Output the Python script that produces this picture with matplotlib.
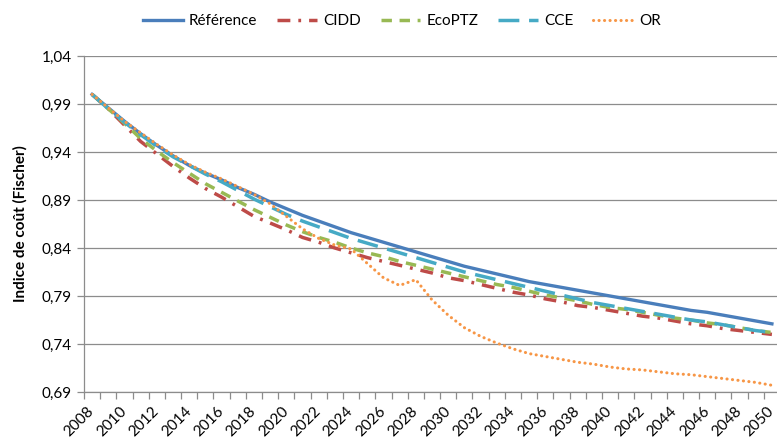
import numpy as np
import matplotlib
matplotlib.use("Agg")
import matplotlib.pyplot as plt
from matplotlib.ticker import FuncFormatter
from matplotlib.transforms import ScaledTranslation

plt.rcParams['font.family'] = ['Lato', 'DejaVu Sans']

years = list(range(2008, 2051))

reference = [1.000, 0.986, 0.972, 0.959, 0.947, 0.936, 0.926, 0.918, 0.911, 0.903,
             0.896, 0.888, 0.881, 0.874, 0.868, 0.862, 0.856, 0.851, 0.846, 0.841,
             0.836, 0.831, 0.826, 0.821, 0.817, 0.813, 0.809, 0.805, 0.802, 0.799,
             0.796, 0.793, 0.790, 0.787, 0.784, 0.781, 0.778, 0.775, 0.773, 0.770,
             0.767, 0.764, 0.761]

cidd = [1.000, 0.985, 0.968, 0.951, 0.938, 0.925, 0.913, 0.902, 0.893, 0.883,
        0.873, 0.866, 0.859, 0.851, 0.846, 0.840, 0.835, 0.830, 0.826, 0.822,
        0.818, 0.814, 0.809, 0.806, 0.802, 0.798, 0.794, 0.791, 0.787, 0.784,
        0.780, 0.778, 0.775, 0.772, 0.769, 0.767, 0.764, 0.761, 0.759, 0.756,
        0.754, 0.752, 0.750]

ecoptz = [1.000, 0.985, 0.970, 0.954, 0.941, 0.929, 0.918, 0.907, 0.898, 0.889,
          0.880, 0.872, 0.864, 0.857, 0.851, 0.846, 0.840, 0.835, 0.831, 0.826,
          0.822, 0.818, 0.814, 0.810, 0.806, 0.802, 0.799, 0.795, 0.791, 0.788,
          0.785, 0.781, 0.778, 0.776, 0.773, 0.770, 0.767, 0.765, 0.762, 0.760,
          0.757, 0.754, 0.752]

cce = [1.000, 0.985, 0.971, 0.958, 0.946, 0.935, 0.926, 0.917, 0.909, 0.900,
       0.891, 0.883, 0.875, 0.868, 0.862, 0.856, 0.850, 0.845, 0.840, 0.835,
       0.830, 0.825, 0.820, 0.815, 0.811, 0.807, 0.803, 0.799, 0.795, 0.791,
       0.787, 0.783, 0.780, 0.777, 0.774, 0.771, 0.768, 0.765, 0.763, 0.760,
       0.757, 0.754, 0.752]

orr = [1.000, 0.986, 0.972, 0.960, 0.948, 0.937, 0.927, 0.919, 0.912, 0.904,
       0.896, 0.886, 0.873, 0.860, 0.850, 0.843, 0.839, 0.824, 0.809, 0.801,
       0.807, 0.786, 0.770, 0.757, 0.748, 0.741, 0.735, 0.730, 0.727, 0.724,
       0.721, 0.719, 0.716, 0.714, 0.713, 0.711, 0.709, 0.708, 0.706, 0.704,
       0.702, 0.700, 0.697]

fig = plt.figure(figsize=(7.77, 4.45), dpi=100)
ax = fig.add_axes([84 / 777, 1 - 392 / 445, (780 - 84) / 777, (392 - 56) / 445])

grey = '#8c8c8c'

ax.plot(years, reference, color='#4A7EBB', lw=2.4, label='Référence')
ax.plot(years, cidd, color='#BE4B48', lw=2.5, dashes=(3.7, 2.3, 0.8, 2.3), label='CIDD')
ax.plot(years, ecoptz, color='#98B954', lw=2.5, dashes=(3.0, 2.2), label='EcoPTZ')
ax.plot(years, cce, color='#46AAC5', lw=2.5, dashes=(6.0, 2.8), label='CCE')
ax.plot(years, orr, color='#F79646', lw=2.2, dashes=(0.05, 1.75), dash_capstyle='round', label='OR')

ax.set_ylim(0.69, 1.04)
ax.set_yticks(np.arange(0.69, 1.0401, 0.05))
ax.yaxis.set_major_formatter(FuncFormatter(lambda v, p: f"{v:.2f}".replace('.', ',')))
ax.grid(axis='y', color=grey, lw=0.9)
ax.set_axisbelow(True)

ax.set_xlim(2007.5, 2050.5)
ax.set_xticks(years[::2])
ax.set_xticklabels([str(y) for y in years[::2]], rotation=45, ha='right', rotation_mode='anchor')
ax.set_xticks([y - 0.5 for y in years] + [2050.5], minor=True)
ax.tick_params(axis='x', which='major', length=0, pad=9, labelsize=11)
ax.tick_params(axis='x', which='minor', length=5, color=grey, width=0.9)
ax.tick_params(axis='y', length=5, color=grey, width=0.9, labelsize=11, pad=4)

# nudge the rotated year labels a little to the left so 2050 stays inside
shift = ScaledTranslation(-0.05, 0, fig.dpi_scale_trans)
for lbl in ax.get_xticklabels():
    lbl.set_transform(lbl.get_transform() + shift)

for s in ['top', 'right']:
    ax.spines[s].set_visible(False)
for s in ['left', 'bottom']:
    ax.spines[s].set_color(grey)
    ax.spines[s].set_linewidth(0.9)

ax.set_ylabel('Indice de coût (Fischer)', fontsize=11, fontweight='bold', labelpad=10)

fig.legend(loc='center', bbox_to_anchor=(402 / 777, 1 - 21 / 445), ncol=5, frameon=False,
           fontsize=11, handlelength=2.6, columnspacing=1.3, handletextpad=0.4)

fig.savefig('out.png', dpi=100)
